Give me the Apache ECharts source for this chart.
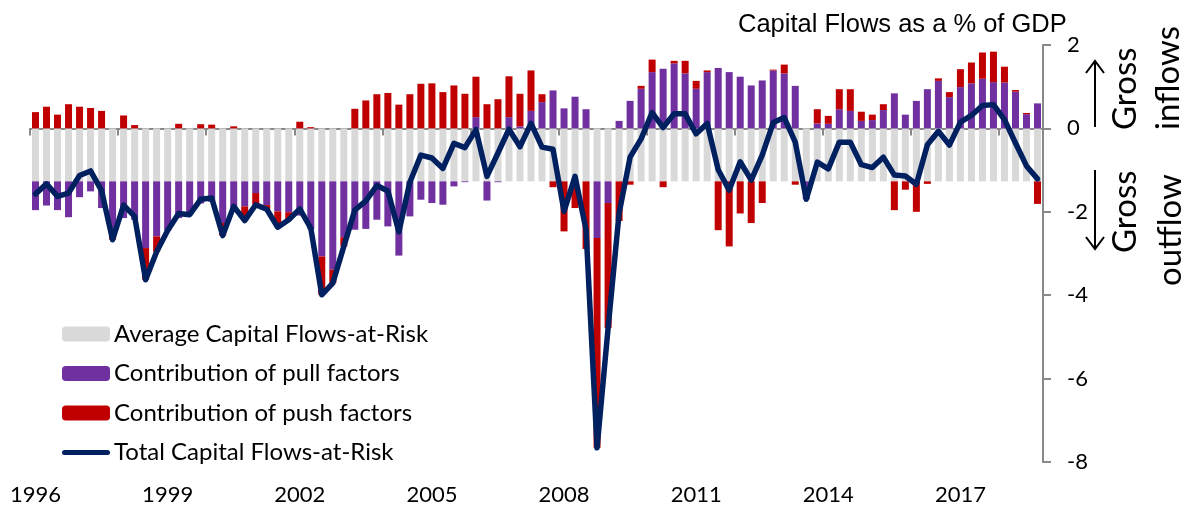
<!DOCTYPE html>
<html>
<head>
<meta charset="utf-8">
<script src="https://cdn.jsdelivr.net/npm/echarts@6/dist/echarts.min.js"></script>
<style>
  html, body { margin: 0; padding: 0; background: #fff; }
  #chart { width: 1197px; height: 511px; }
</style>
</head>
<body>
<div id="chart"></div>
<script>
// quarterly categories, 1996Q1 .. 2018Q4
const years = []
for (let y = 1996; y <= 2018; y++) years.push(y)
const quarters = []
years.forEach(y => { for (let q = 1; q <= 4; q++) quarters.push(y + 'Q' + q) })

// average capital flows-at-risk (flat)
const avgFlows = [
  -1.27, -1.27, -1.27, -1.27, -1.27, -1.27, -1.27, -1.27, -1.27, -1.27, -1.27, -1.27,
  -1.27, -1.27, -1.27, -1.27, -1.27, -1.27, -1.27, -1.27, -1.27, -1.27, -1.27, -1.27,
  -1.27, -1.27, -1.27, -1.27, -1.27, -1.27, -1.27, -1.27, -1.27, -1.27, -1.27, -1.27,
  -1.27, -1.27, -1.27, -1.27, -1.27, -1.27, -1.27, -1.27, -1.27, -1.27, -1.27, -1.27,
  -1.27, -1.27, -1.27, -1.27, -1.27, -1.27, -1.27, -1.27, -1.27, -1.27, -1.27, -1.27,
  -1.27, -1.27, -1.27, -1.27, -1.27, -1.27, -1.27, -1.27, -1.27, -1.27, -1.27, -1.27,
  -1.27, -1.27, -1.27, -1.27, -1.27, -1.27, -1.27, -1.27, -1.27, -1.27, -1.27, -1.27,
  -1.27, -1.27, -1.27, -1.27, -1.27, -1.27, -1.27, -1.27
]

// contribution of pull factors
const pullFactors = [
  -0.69, -0.58, -0.69, -0.86, -0.38, -0.24, -0.64, -1.30, -0.88, -0.92, -1.60, -1.32,
  -1.18, -0.88, -0.80, -0.53, -0.49, -1.00, -0.65, -0.60, -0.28, -0.57, -0.72, -0.74,
  -0.82, -1.15, -1.80, -2.12, -1.34, -1.16, -1.14, -0.92, -1.08, -1.78, -0.84, -0.44,
  -0.52, -0.56, -0.12, -0.02, 0.27, -0.46, -0.02, 0.27, 0.05, 0.42, 0.63, 0.91,
  0.48, 0.76, 0.46, -1.36, -0.52, 0.18, 0.66, 0.95, 1.35, 1.43, 1.56, 1.32,
  0.95, 1.35, 1.45, 1.35, 1.24, 1.03, 1.15, 1.39, 1.32, 1.02, -0.43, 0.12,
  0.11, 0.46, 0.42, 0.18, 0.20, 0.44, 0.84, 0.33, 0.66, 0.94, 1.14, 0.75,
  0.99, 1.08, 1.19, 1.11, 1.10, 0.88, 0.34, 0.60
]

// contribution of push factors
const pushFactors = [
  0.39, 0.52, 0.33, 0.58, 0.52, 0.49, 0.42, -0.10, 0.31, 0.08, -0.76, -0.37,
  0, 0.11, 0, 0.10, 0.09, -0.30, 0.05, -0.34, -0.28, -0.10, -0.38, -0.18,
  0.16, 0.03, -0.92, -0.32, -0.22, 0.47, 0.67, 0.82, 0.85, 0.57, 0.82, 1.07,
  1.08, 0.87, 1.03, 0.83, 0.97, 0.58, 0.70, 0.98, 0.78, 0.97, 0.19, -0.14,
  -1.20, -0.64, -1.62, -5.03, -3.00, -0.95, -0.08, 0.07, 0.30, -0.14, 0.06, 0.30,
  0.19, 0.04, -1.17, -1.56, -0.77, -1.00, -0.52, 0.02, 0.21, -0.08, 0, 0.34,
  0.19, 0.48, 0.52, 0.22, 0.13, 0.14, -0.69, -0.20, -0.73, -0.06, 0.06, 0.12,
  0.43, 0.50, 0.63, 0.73, 0.38, 0.04, 0.03, -0.54
]

// total capital flows-at-risk
const totalFlows = [
  -1.57, -1.33, -1.63, -1.55, -1.13, -1.02, -1.49, -2.67, -1.84, -2.11, -3.63, -2.96,
  -2.45, -2.04, -2.07, -1.70, -1.67, -2.57, -1.87, -2.21, -1.83, -1.94, -2.37, -2.19,
  -1.93, -2.39, -3.99, -3.71, -2.83, -1.96, -1.74, -1.37, -1.50, -2.48, -1.29, -0.64,
  -0.71, -0.96, -0.36, -0.46, -0.03, -1.15, -0.59, -0.02, -0.44, 0.12, -0.45, -0.50,
  -1.99, -1.15, -2.43, -7.66, -4.79, -2.04, -0.69, -0.25, 0.38, 0.02, 0.35, 0.35,
  -0.13, 0.12, -0.99, -1.48, -0.80, -1.24, -0.64, 0.14, 0.26, -0.33, -1.70, -0.81,
  -0.97, -0.33, -0.33, -0.87, -0.94, -0.69, -1.12, -1.14, -1.34, -0.39, -0.07, -0.40,
  0.15, 0.31, 0.55, 0.57, 0.21, -0.35, -0.90, -1.21
]

const FONT = 'Lato'
const AXIS_GREY = '#898989'

let myChart = echarts.init(document.getElementById('chart'), null, { renderer: 'canvas' })
myChart.setOption({
  animation: false,
  title: {
    text: 'Capital Flows as a % of GDP',
    left: 733,
    top: 7,
    textStyle: {
      fontFamily: 'Liberation Sans',
      fontWeight: 'normal',
      fontSize: 25.5,
      color: '#000'
    }
  },
  legend: {
    orient: 'vertical',
    left: 57,
    top: 317,
    itemWidth: 48,
    itemHeight: 15,
    itemGap: 15.5,
    textStyle: { fontFamily: FONT, fontSize: 24, color: '#000', padding: [0, 0, 0, -1] },
    data: [
      'Average Capital Flows-at-Risk',
      'Contribution of pull factors',
      'Contribution of push factors',
      {
        name: 'Total Capital Flows-at-Risk',
        icon: 'path://M5,0 H91 A5,5 0 0 1 91,10 H5 A5,5 0 0 1 5,0 Z',
        itemStyle: { color: '#002060' }
      }
    ]
  },
  grid: {
    left: 30,
    right: 154,
    top: 45,
    bottom: 49
  },
  xAxis: [
    {
      type: 'category',
      data: quarters,
      position: 'bottom',
      axisLine: { onZero: true, lineStyle: { color: AXIS_GREY, width: 2 } },
      axisTick: { show: true, interval: 7, length: 7, lineStyle: { color: AXIS_GREY, width: 2 } },
      axisLabel: { show: false }
    },
    {
      type: 'category',
      data: quarters,
      position: 'bottom',
      axisLine: { show: false, onZero: false },
      axisTick: { show: false },
      axisLabel: {
        interval: 11,
        margin: 22,
        fontFamily: FONT,
        fontSize: 22,
        color: '#000',
        formatter: v => v.slice(0, 4)
      }
    }
  ],
  yAxis: {
    type: 'value',
    position: 'right',
    min: -8,
    max: 2,
    interval: 2,
    axisLine: { show: true, lineStyle: { color: AXIS_GREY, width: 2 } },
    axisTick: { show: true, length: 8, lineStyle: { color: AXIS_GREY, width: 2 } },
    axisLabel: { margin: 24, fontFamily: FONT, fontSize: 22, color: '#000' },
    splitLine: { show: false }
  },
  series: [
    {
      name: 'Average Capital Flows-at-Risk',
      type: 'bar',
      stack: 'flows',
      barWidth: 7,
      itemStyle: { color: '#D9D9D9' },
      data: avgFlows
    },
    {
      name: 'Contribution of pull factors',
      type: 'bar',
      stack: 'flows',
      barWidth: 7,
      itemStyle: { color: '#7030A0' },
      data: pullFactors
    },
    {
      name: 'Contribution of push factors',
      type: 'bar',
      stack: 'flows',
      barWidth: 7,
      itemStyle: { color: '#C00000' },
      data: pushFactors
    },
    {
      name: 'Total Capital Flows-at-Risk',
      type: 'line',
      symbol: 'none',
      z: 5,
      lineStyle: { color: '#002060', width: 5.5, cap: 'round', join: 'round' },
      itemStyle: { color: '#002060' },
      data: totalFlows
    }
  ],
  graphic: [
    // arrows
    { type: 'line', shape: { x1: 1095, y1: 127, x2: 1095, y2: 61 }, style: { stroke: '#000', lineWidth: 2 } },
    { type: 'polyline', shape: { points: [[1086, 73], [1095, 61], [1104, 73]] }, style: { stroke: '#000', lineWidth: 2, fill: null } },
    { type: 'line', shape: { x1: 1095, y1: 170, x2: 1095, y2: 249 }, style: { stroke: '#000', lineWidth: 2 } },
    { type: 'polyline', shape: { points: [[1086, 237], [1095, 249], [1104, 237]] }, style: { stroke: '#000', lineWidth: 2, fill: null } },
    // rotated side labels
    { type: 'text', x: 1125, y: 130, rotation: Math.PI / 2,
      style: { text: 'Gross', fontFamily: FONT, fontSize: 33, fill: '#000', align: 'left', verticalAlign: 'middle' } },
    { type: 'text', x: 1168, y: 130, rotation: Math.PI / 2,
      style: { text: 'inflows', fontFamily: FONT, fontSize: 33, fill: '#000', align: 'left', verticalAlign: 'middle' } },
    { type: 'text', x: 1125, y: 253, rotation: Math.PI / 2,
      style: { text: 'Gross', fontFamily: FONT, fontSize: 33, fill: '#000', align: 'left', verticalAlign: 'middle' } },
    { type: 'text', x: 1170, y: 286, rotation: Math.PI / 2,
      style: { text: 'outflow', fontFamily: FONT, fontSize: 33, fill: '#000', align: 'left', verticalAlign: 'middle' } }
  ]
})
</script>
</body>
</html>
